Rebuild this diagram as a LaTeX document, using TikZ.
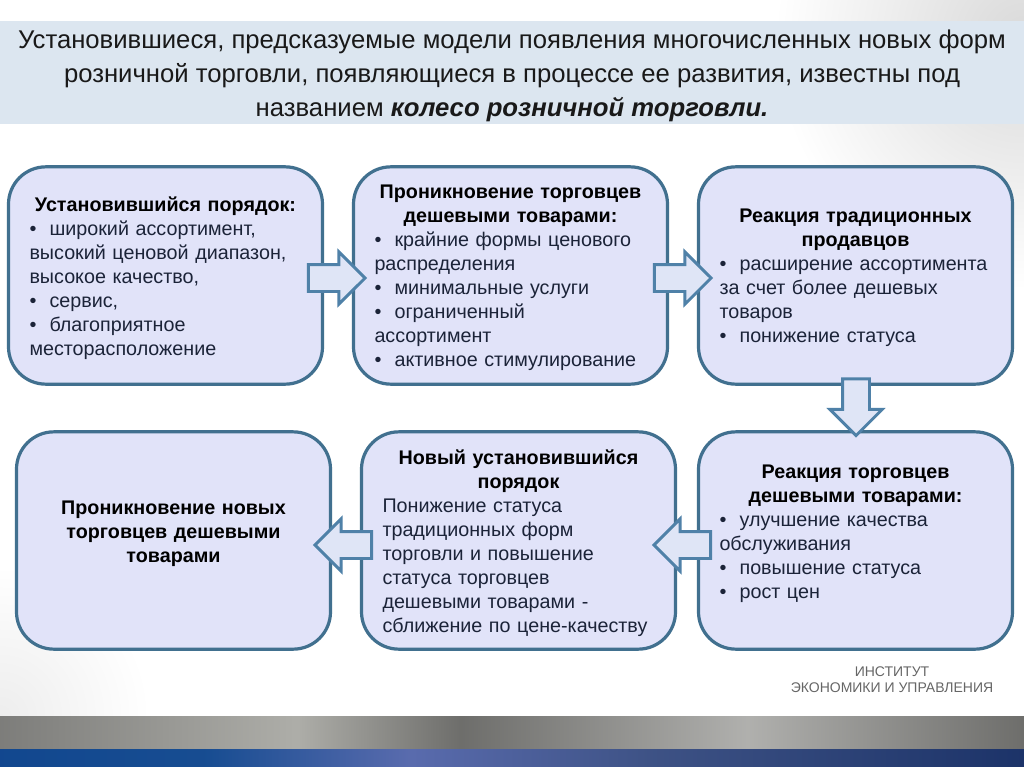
\documentclass[tikz,border=0pt]{standalone}
\usepackage{fontspec}
\setmainfont{Liberation Sans}
\usepackage[dvipsnames]{xcolor}
\usetikzlibrary{shapes.arrows}
\definecolor{barblue}{HTML}{DCE6F0}
\definecolor{boxfill}{HTML}{E1E3F9}
\definecolor{boxline}{HTML}{41708F}
\definecolor{arrowfill}{HTML}{DFE5F6}
\definecolor{arrowline}{HTML}{4F81A8}
\definecolor{bodytext}{HTML}{1B2338}
\pgfdeclarehorizontalshading{greybar}{100bp}{rgb(0bp)=(.49,.49,.48); rgb(25bp)=(.49,.49,.48); rgb(39.5bp)=(.68,.68,.66); rgb(47.5bp)=(.43,.43,.42); rgb(61.5bp)=(.69,.69,.68); rgb(75bp)=(.43,.43,.42); rgb(100bp)=(.43,.43,.42)}
\pgfdeclarehorizontalshading{bluebar}{100bp}{rgb(0bp)=(.07,.28,.56); rgb(25bp)=(.07,.28,.56); rgb(35bp)=(.09,.30,.57); rgb(45bp)=(.35,.42,.68); rgb(57bp)=(.24,.32,.52); rgb(75bp)=(.11,.20,.41); rgb(100bp)=(.11,.20,.41)}
\newcommand{\hd}[1]{{\centering\bfseries\color{black}#1\par}}
\newcommand{\bxend}{\par\vspace{-3.8pt}}
\begin{document}
\begin{tikzpicture}[x=0.75pt,y=-0.75pt,node distance=258.75pt,
    box node/.style={rectangle,rounded corners=28pt,draw=boxline,fill=boxfill,line width=2.4pt,minimum width=235.5pt,minimum height=163pt,inner sep=0pt,text width=204pt,text=bodytext,font=\fontsize{14.8}{18}\selectfont,align=left,execute at end node=\bxend},
    block/.style={single arrow,draw=arrowline,fill=arrowfill,line width=2.2pt,inner sep=9pt,minimum width=39pt,minimum height=42.5pt,single arrow head extend=9.5pt,single arrow tip angle=90,shape border rotate=0}]
    \useasboundingbox (0,0) rectangle (1024,767);
    \fill[white] (0,0) rectangle (1024,767);
    \shade[inner color=gray!30,outer color=white] (1024,40) circle (250);
    \shade[inner color=gray!14,outer color=white] (0,716) circle (150);
    \fill[barblue] (0,21) rectangle (1024,124);
    \shade[shading=greybar] (0,716) rectangle (1024,749);
    \shade[shading=bluebar] (0,749) rectangle (1024,767);

    \node (t) at (512,75.5) [align=center,text=black!90,font=\fontsize{19.25}{25.5}\selectfont] {Установившиеся, предсказуемые модели появления многочисленных новых форм\\ розничной торговли, появляющиеся в процессе ее развития, известны под\\ названием {\bfseries\itshape колесо розничной торговли.}};

    \node[box node] (1) at (165.5,275.5) {\hd{Установившийся порядок:}
        •\ \ широкий ассортимент,\\ высокий ценовой диапазон,\\ высокое качество,\\ •\ \ сервис,\\ •\ \ благоприятное\\ месторасположение};
    \node[box node] (2) [right of = 1] {\hd{Проникновение торговцев\\ дешевыми товарами:}
        •\ \ крайние формы ценового\\ распределения\\ •\ \ минимальные услуги\\ •\ \ ограниченный\\ ассортимент\\ •\ \ активное стимулирование};
    \node[box node] (3) [right of = 2] {\hd{Реакция традиционных\\ продавцов}
        •\ \ расширение ассортимента\\ за счет более дешевых\\ товаров\\ •\ \ понижение статуса};
    \node[box node,node distance=198.75pt] (6) [below of = 3] {\hd{Реакция торговцев\\ дешевыми товарами:}
        •\ \ улучшение качества\\ обслуживания\\ •\ \ повышение статуса\\ •\ \ рост цен\par\vspace{14pt}};
    \node[box node,node distance=252.75pt] (5) [left of = 6] {\hd{Новый установившийся\\ порядок}
        Понижение статуса\\ традиционных форм\\ торговли и повышение\\ статуса торговцев\\ дешевыми товарами -\\ сближение по цене-качеству};
    \node[box node] (4) [left of = 5] {\hd{Проникновение новых\\ торговцев дешевыми\\ товарами}\vspace{14pt}};

    \node[block] (a1) at (330,278) {};
    \node[block] (a2) at (676,278) {};
    \node[block,rotate=-90] (a3) at (856,400.5) {};
    \node[block,rotate=180] (a4) at (689,545) {};
    \node[block,rotate=180] (a5) at (350,545) {};

    \node (n) at (892,680) [align=center,text=black!60,font=\fontsize{10.5}{12}\selectfont] {ИНСТИТУТ\\ ЭКОНОМИКИ И УПРАВЛЕНИЯ};
\end{tikzpicture}
\end{document}
